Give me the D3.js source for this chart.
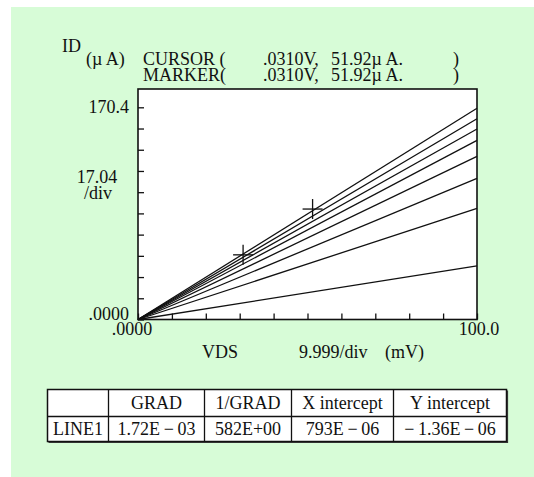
<!DOCTYPE html>
<meta charset="utf-8">
<script src="https://d3js.org/d3.v7.min.js"></script>
<style>
  body { margin: 0; background: #fff; }
</style>
<div id="my_dataviz"></div>
<script>
// VDS sweep (mV) and ID at the end of the sweep (uA) for each trace
var vdsPoints = [0, 100];
var idAt100 = [169.6, 161.2, 153.0, 143.9, 131.0, 113.3, 89.2, 43.1];

// cursor / marker crosses [VDS mV, ID uA]
var crosses = [[31.0, 51.92], [51.5, 88.7]];

// axis ticks
var yTicks = [0, 17.04, 34.08, 51.12, 68.16, 85.2, 102.24, 119.28, 136.32, 153.36, 170.4];
var xTicks = [0, 10, 20, 30, 40, 50, 60, 70, 80, 90, 100];
var yMaxShown = 185.1;

// table
var tableHead = ["", "GRAD", "1/GRAD", "X intercept", "Y intercept"];
var tableRow = ["LINE1", "1.72E\u2009\u2212\u200903", "582E+00", "793E\u2009\u2212\u200906", "\u2212\u20091.36E\u2009\u2212\u200906"];

var W = 534, H = 477;
var FONT = "'Liberation Serif', 'DejaVu Serif', serif";
var svg = d3.select("#my_dataviz").append("svg")
    .attr("width", W).attr("height", H);

// green panel
svg.append("rect")
    .attr("x", 11).attr("y", 7)
    .attr("width", W - 11).attr("height", H - 7)
    .attr("fill", "#d7fcd7");

var plot = {left: 138, top: 89, width: 339, height: 230.5};

var x = d3.scaleLinear().domain([0, 100]).range([plot.left, plot.left + plot.width]);
var y = d3.scaleLinear().domain([0, yMaxShown]).range([plot.top + plot.height, plot.top]);

svg.append("rect")
    .attr("x", plot.left).attr("y", plot.top)
    .attr("width", plot.width).attr("height", plot.height)
    .attr("fill", "#fff");

// inner ticks
svg.append("g")
    .attr("transform", "translate(" + plot.left + ",0)")
    .call(d3.axisLeft(y).tickValues(yTicks).tickSize(-6).tickFormat(""))
    .call(function (g) { g.select(".domain").remove(); })
    .selectAll("line").attr("stroke", "#111").attr("stroke-width", 1.3);

svg.append("g")
    .attr("transform", "translate(0," + (plot.top + plot.height) + ")")
    .call(d3.axisBottom(x).tickValues(xTicks).tickSize(-6).tickFormat(""))
    .call(function (g) { g.select(".domain").remove(); })
    .selectAll("line").attr("stroke", "#111").attr("stroke-width", 1.3);

// traces
var line = d3.line()
    .x(function (d) { return x(d[0]); })
    .y(function (d) { return y(d[1]); });

svg.append("g")
  .selectAll("path")
  .data(idAt100)
  .enter()
  .append("path")
    .attr("d", function (v) { return line(vdsPoints.map(function (vd) { return [vd, v * vd / 100]; })); })
    .attr("fill", "none")
    .attr("stroke", "#111")
    .attr("stroke-width", 1.3);

// crosses
var cross = svg.append("g").selectAll("g").data(crosses).enter().append("g")
    .attr("transform", function (d) { return "translate(" + x(d[0]) + "," + y(d[1]) + ")"; });
cross.append("line").attr("x1", -10).attr("x2", 10).attr("stroke", "#111").attr("stroke-width", 1.3);
cross.append("line").attr("y1", -10).attr("y2", 10).attr("stroke", "#111").attr("stroke-width", 1.3);

// frame
svg.append("rect")
    .attr("x", plot.left).attr("y", plot.top)
    .attr("width", plot.width).attr("height", plot.height)
    .attr("fill", "none").attr("stroke", "#111").attr("stroke-width", 1.6);

// text helper
function txt(s, tx, ty, anchor, size) {
  svg.append("text").attr("x", tx).attr("y", ty)
     .attr("text-anchor", anchor || "start")
     .attr("font-family", FONT)
     .attr("font-size", (size || 18) + "px")
     .attr("fill", "#111")
     .text(s);
}

// axis labels
txt("170.4", plot.left - 9, y(170.4) + 6, "end");
txt("17.04", 97, 183, "middle");
txt("/div", 98, 199, "middle");
txt(".0000", plot.left - 9, y(0), "end");
txt(".0000", x(0) - 6, 335, "middle");
txt("100.0", x(100) + 2, 335, "middle");
txt("VDS", 202, 358);
txt("9.999/div", 299, 358);
txt("(mV)", 385, 358);

// header
txt("ID", 62, 52);
txt("(\u00b5 A)", 86, 65);
txt("CURSOR (", 143, 65);
txt(".0310V,", 263, 65);
txt("51.92\u00b5 A.", 331, 65);
txt(")", 453, 65);
txt("MARKER(", 143, 81);
txt(".0310V,", 263, 81);
txt("51.92\u00b5 A.", 331, 81);
txt(")", 453, 81);

// table
var colX = [47.5, 108.5, 204.5, 291.5, 393.5, 506.5];
var rowY = [389.5, 416.5, 441.5];
var tbl = svg.append("g");
tbl.append("rect")
    .attr("x", colX[0]).attr("y", rowY[0])
    .attr("width", colX[5] - colX[0]).attr("height", rowY[2] - rowY[0])
    .attr("fill", "#fff").attr("stroke", "#111").attr("stroke-width", 1.5);
tbl.append("line").attr("x1", colX[0]).attr("x2", colX[5]).attr("y1", rowY[1]).attr("y2", rowY[1])
    .attr("stroke", "#111").attr("stroke-width", 1.3);
colX.slice(1, 5).forEach(function (cx) {
  tbl.append("line").attr("x1", cx).attr("x2", cx).attr("y1", rowY[0]).attr("y2", rowY[2] + 1)
      .attr("stroke", "#111").attr("stroke-width", 1.3);
});
// shadow on right / bottom edge
tbl.append("path")
    .attr("d", "M" + (colX[5] + 1) + "," + (rowY[0] + 1) + "V" + (rowY[2] + 1) + "H" + (colX[0] + 1))
    .attr("fill", "none").attr("stroke", "#333").attr("stroke-width", 1.2);

tableHead.forEach(function (s, i) {
  txt(s, (colX[i] + colX[i + 1]) / 2, 409, "middle");
});
tableRow.forEach(function (s, i) {
  txt(s, (colX[i] + colX[i + 1]) / 2, 435, "middle");
});
</script>
